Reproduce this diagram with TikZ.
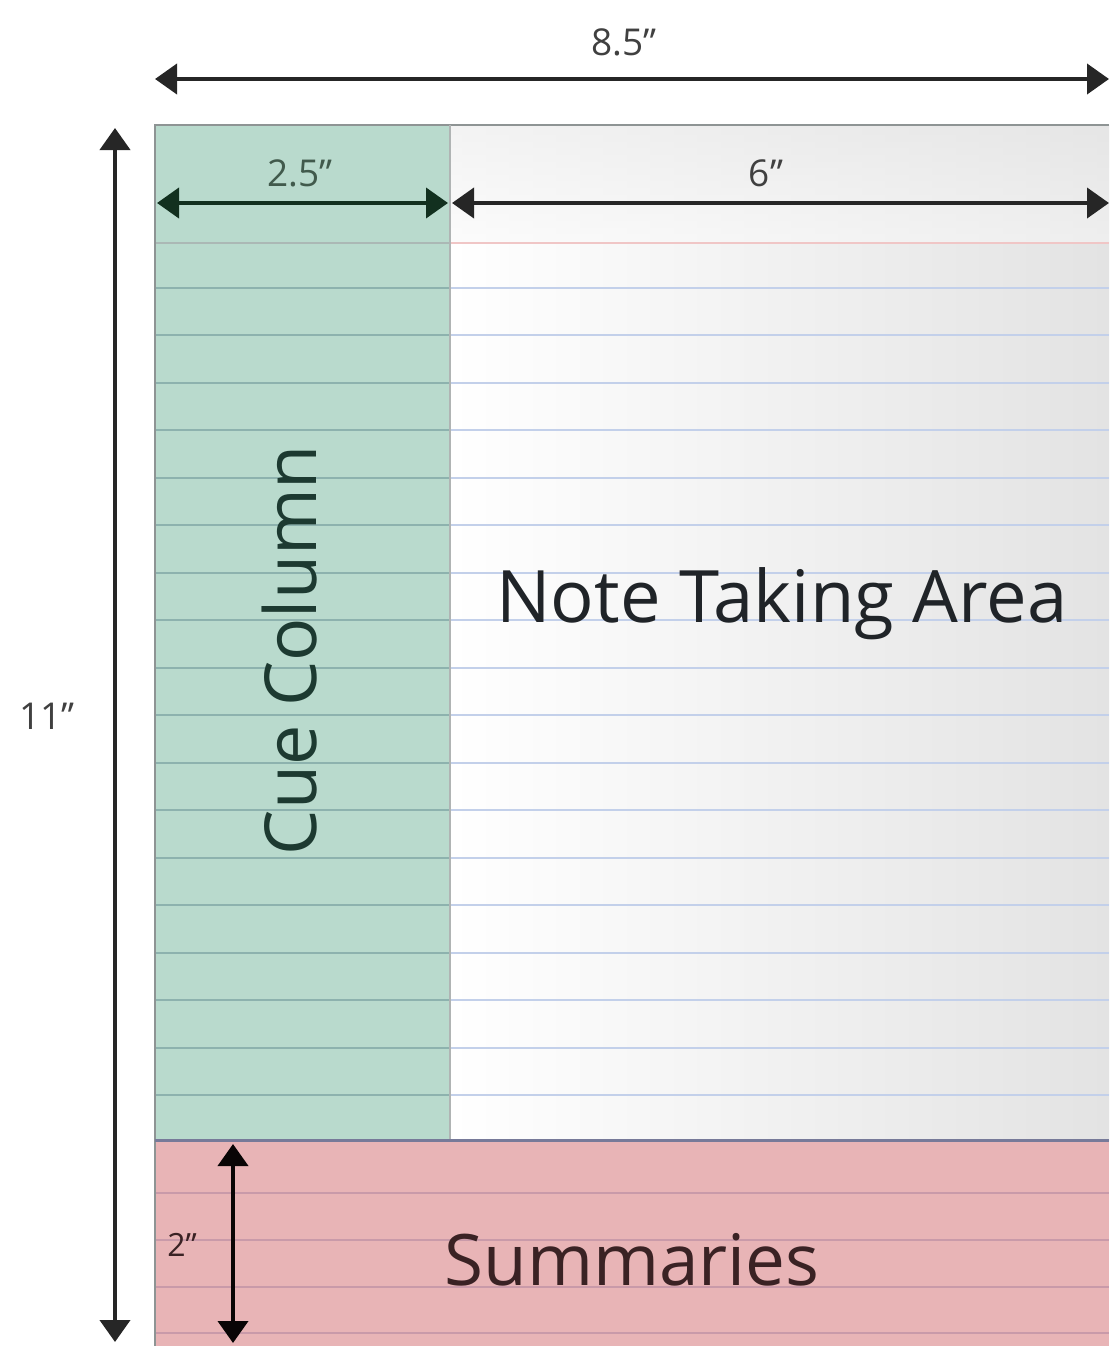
\documentclass[tikz,border=0pt]{standalone}
\usepackage{fontspec}
\setmainfont{Open Sans}
\usetikzlibrary{arrows.meta}
\definecolor{cuegreen}{HTML}{B9DACD}
\definecolor{cueline}{HTML}{8DB2AE}
\definecolor{noteline}{HTML}{C3D0EA}
\definecolor{redline}{HTML}{F0C6C6}
\definecolor{sumpink}{HTML}{E8B4B6}
\definecolor{sumline}{HTML}{C99AA9}
\definecolor{bordergray}{HTML}{8E9494}
\definecolor{textdark}{HTML}{202428}
\definecolor{cuetext}{HTML}{1D3A31}
\definecolor{sumtext}{HTML}{3A2224}
\definecolor{dimgreen}{HTML}{12301F}
\begin{document}
\begin{tikzpicture}[x=1pt,y=-1pt,
  dimarrow/.style={line width=4pt, {Triangle[length=22pt,width=30pt]}-{Triangle[length=22pt,width=30pt]}},
  dimlabel/.style={font=\fontsize{37}{39}\selectfont, text=black!75, inner sep=0pt},
  bigtext/.style={inner sep=0pt}
]
\useasboundingbox (0,0) rectangle (1109,1346);
% regions
\fill[cuegreen] (155,125) rectangle (450,1140);
\shade[left color=white, right color=black!11] (450,125) rectangle (1109,1140);
\shade[top color=black!9, bottom color=black!2, opacity=0.5] (450,125) rectangle (1109,243);
\fill[sumpink] (155,1140) rectangle (1109,1346);
% ruled lines
\draw[line width=2pt, redline] (450,243) -- (1109,243);
\draw[line width=2pt, cueline!70!redline] (155,243) -- (450,243);
\foreach \i in {0,...,17} {
  \draw[line width=2pt, noteline] (450,{288+47.47*\i}) -- (1109,{288+47.47*\i});
  \draw[line width=2pt, cueline] (155,{288+47.47*\i}) -- (450,{288+47.47*\i});
}
\foreach \yy in {1193,1240,1287,1333} {
  \draw[line width=2pt, sumline] (155,\yy) -- (1109,\yy);
}
% borders
\draw[line width=2.5pt, bordergray] (155,1346) -- (155,125) -- (1109,125);
\draw[line width=2pt, bordergray!70] (450,125) -- (450,1140);
\draw[line width=3pt, bordergray!80!blue!60!gray] (155,1140) -- (1109,1140);
% coordinates for dimensions
\coordinate (wL) at (155,79);
\coordinate (wR) at (1109,79);
\coordinate (hT) at (115,128);
\coordinate (hB) at (115,1342);
\coordinate (cL) at (157,203);
\coordinate (cR) at (448,203);
\coordinate (nL) at (452,203);
\coordinate (nR) at (1109,203);
\coordinate (sT) at (233,1144);
\coordinate (sB) at (233,1343);
\draw[dimarrow, black!85] (wL) -- (wR);
\draw[dimarrow, black!85] (hT) -- (hB);
\draw[dimarrow, dimgreen] (cL) -- (cR);
\draw[dimarrow, black!85] (nL) -- (nR);
\draw[dimarrow, black!85!sumtext] (sT) -- (sB);
\node[dimlabel] (lw) at (624,42) {8.5”};
\node[dimlabel] (lh) at (47,716) {11”};
\node[dimlabel, text=dimgreen!80] (lc) at (300,173) {2.5”};
\node[dimlabel] (ln) at (766,173) {6”};
\node[dimlabel, text=sumtext, font=\fontsize{32}{34}\selectfont] (ls) at (182,1245) {2”};
% main labels
\node[bigtext, rotate=90, text=cuetext] (cue) at (290,650) {\resizebox{410pt}{!}{Cue Column}};
\node[bigtext, text=textdark] (note) at (782,604) {\resizebox{571pt}{!}{Note Taking Area}};
\node[bigtext, text=sumtext] (sum) at (632,1260) {\resizebox{375pt}{!}{Summaries}};
\end{tikzpicture}
\end{document}
